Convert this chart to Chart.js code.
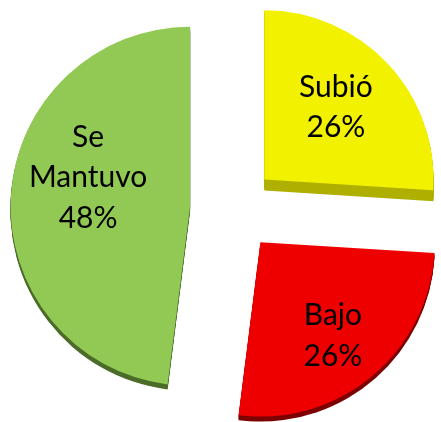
<!DOCTYPE html>
<html><head><meta charset="utf-8">
<script src="https://cdn.jsdelivr.net/npm/chart.js@4"></script>
<style>html,body{margin:0;padding:0;background:#fff;overflow:hidden}#wrap{width:441px;height:422px;position:relative}</style>
</head><body><div id="wrap"><canvas id="c"></canvas></div>
<script>
// Data
const categories = ['Subió', 'Bajo', 'Se Mantuvo'];
const categoryLines = [['Subió'], ['Bajo'], ['Se', 'Mantuvo']];
const values = [26, 26, 48];

const total = values.reduce((a, b) => a + b, 0);

// Explode slices: move each arc element outward along its mid angle (with slight perspective scaling)
const explodePlugin = {
  id: 'explode',
  afterDatasetsUpdate(chart, args, opts) {
    const meta = chart.getDatasetMeta(0);
    meta.data.forEach((arc, i) => {
      const half = (arc.startAngle + arc.endAngle) / 2;
      arc.x += Math.cos(half) * opts.distance;
      arc.y += Math.sin(half) * opts.distance;
      arc.outerRadius *= opts.radiusScale[i];
    });
  }
};

// 3D side of each slice
const depthPlugin = {
  id: 'depth',
  beforeDatasetsDraw(chart, args, opts) {
    const ctx = chart.ctx;
    const meta = chart.getDatasetMeta(0);
    meta.data.forEach((arc, i) => {
      ctx.save();
      ctx.fillStyle = opts.colors[i];
      for (let d = 1; d <= opts.depth[i]; d++) {
        ctx.beginPath();
        ctx.moveTo(arc.x, arc.y + d);
        ctx.arc(arc.x, arc.y + d, arc.outerRadius, arc.startAngle, arc.endAngle);
        ctx.closePath();
        ctx.fill();
      }
      ctx.restore();
    });
  }
};

const labelPlugin = {
  id: 'sliceLabels',
  afterDatasetsDraw(chart, args, opts) {
    const ctx = chart.ctx;
    const meta = chart.getDatasetMeta(0);
    ctx.save();
    ctx.font = opts.font;
    ctx.fillStyle = opts.color;
    ctx.textAlign = 'center';
    ctx.textBaseline = 'middle';
    meta.data.forEach((arc, i) => {
      const half = (arc.startAngle + arc.endAngle) / 2;
      const a = half + (opts.angleShift[i] || 0) * Math.PI / 180;
      const f = opts.fractions[i];
      const lx = arc.x + Math.cos(a) * arc.outerRadius * f;
      const ly = arc.y + Math.sin(a) * arc.outerRadius * f;
      const lines = categoryLines[i].concat([Math.round(values[i] / total * 100) + '%']);
      const lh = opts.lineHeight;
      const y0 = ly - (lines.length - 1) * lh / 2;
      lines.forEach((t, k) => ctx.fillText(t, lx, y0 + k * lh));
    });
    ctx.restore();
  }
};

new Chart(document.getElementById('c'), {
  type: 'pie',
  data: {
    labels: categories,
    datasets: [{
      data: values,
      backgroundColor: ['#f1f100', '#ef0000', '#91c954'],
      borderWidth: 0
    }]
  },
  options: {
    responsive: true,
    maintainAspectRatio: false,
    animation: false,
    radius: 171,
    layout: { padding: { left: 25, right: 0, top: 0, bottom: 4 } },
    plugins: {
      legend: { display: false },
      tooltip: { enabled: false },
      explode: { distance: 43, radiusScale: [0.99, 1.02, 1.05] },
      depth: { depth: [11, 5, 5], colors: ['#afaf00', '#7d0000', '#4b6b29'] },
      sliceLabels: {
        font: '30px Lato',
        color: '#000',
        lineHeight: 40.5,
        fractions: [0.6, 0.68, 0.59],
        angleShift: [-2, 1.9, 12.1]
      }
    }
  },
  plugins: [explodePlugin, depthPlugin, labelPlugin]
});
</script>
</body></html>
